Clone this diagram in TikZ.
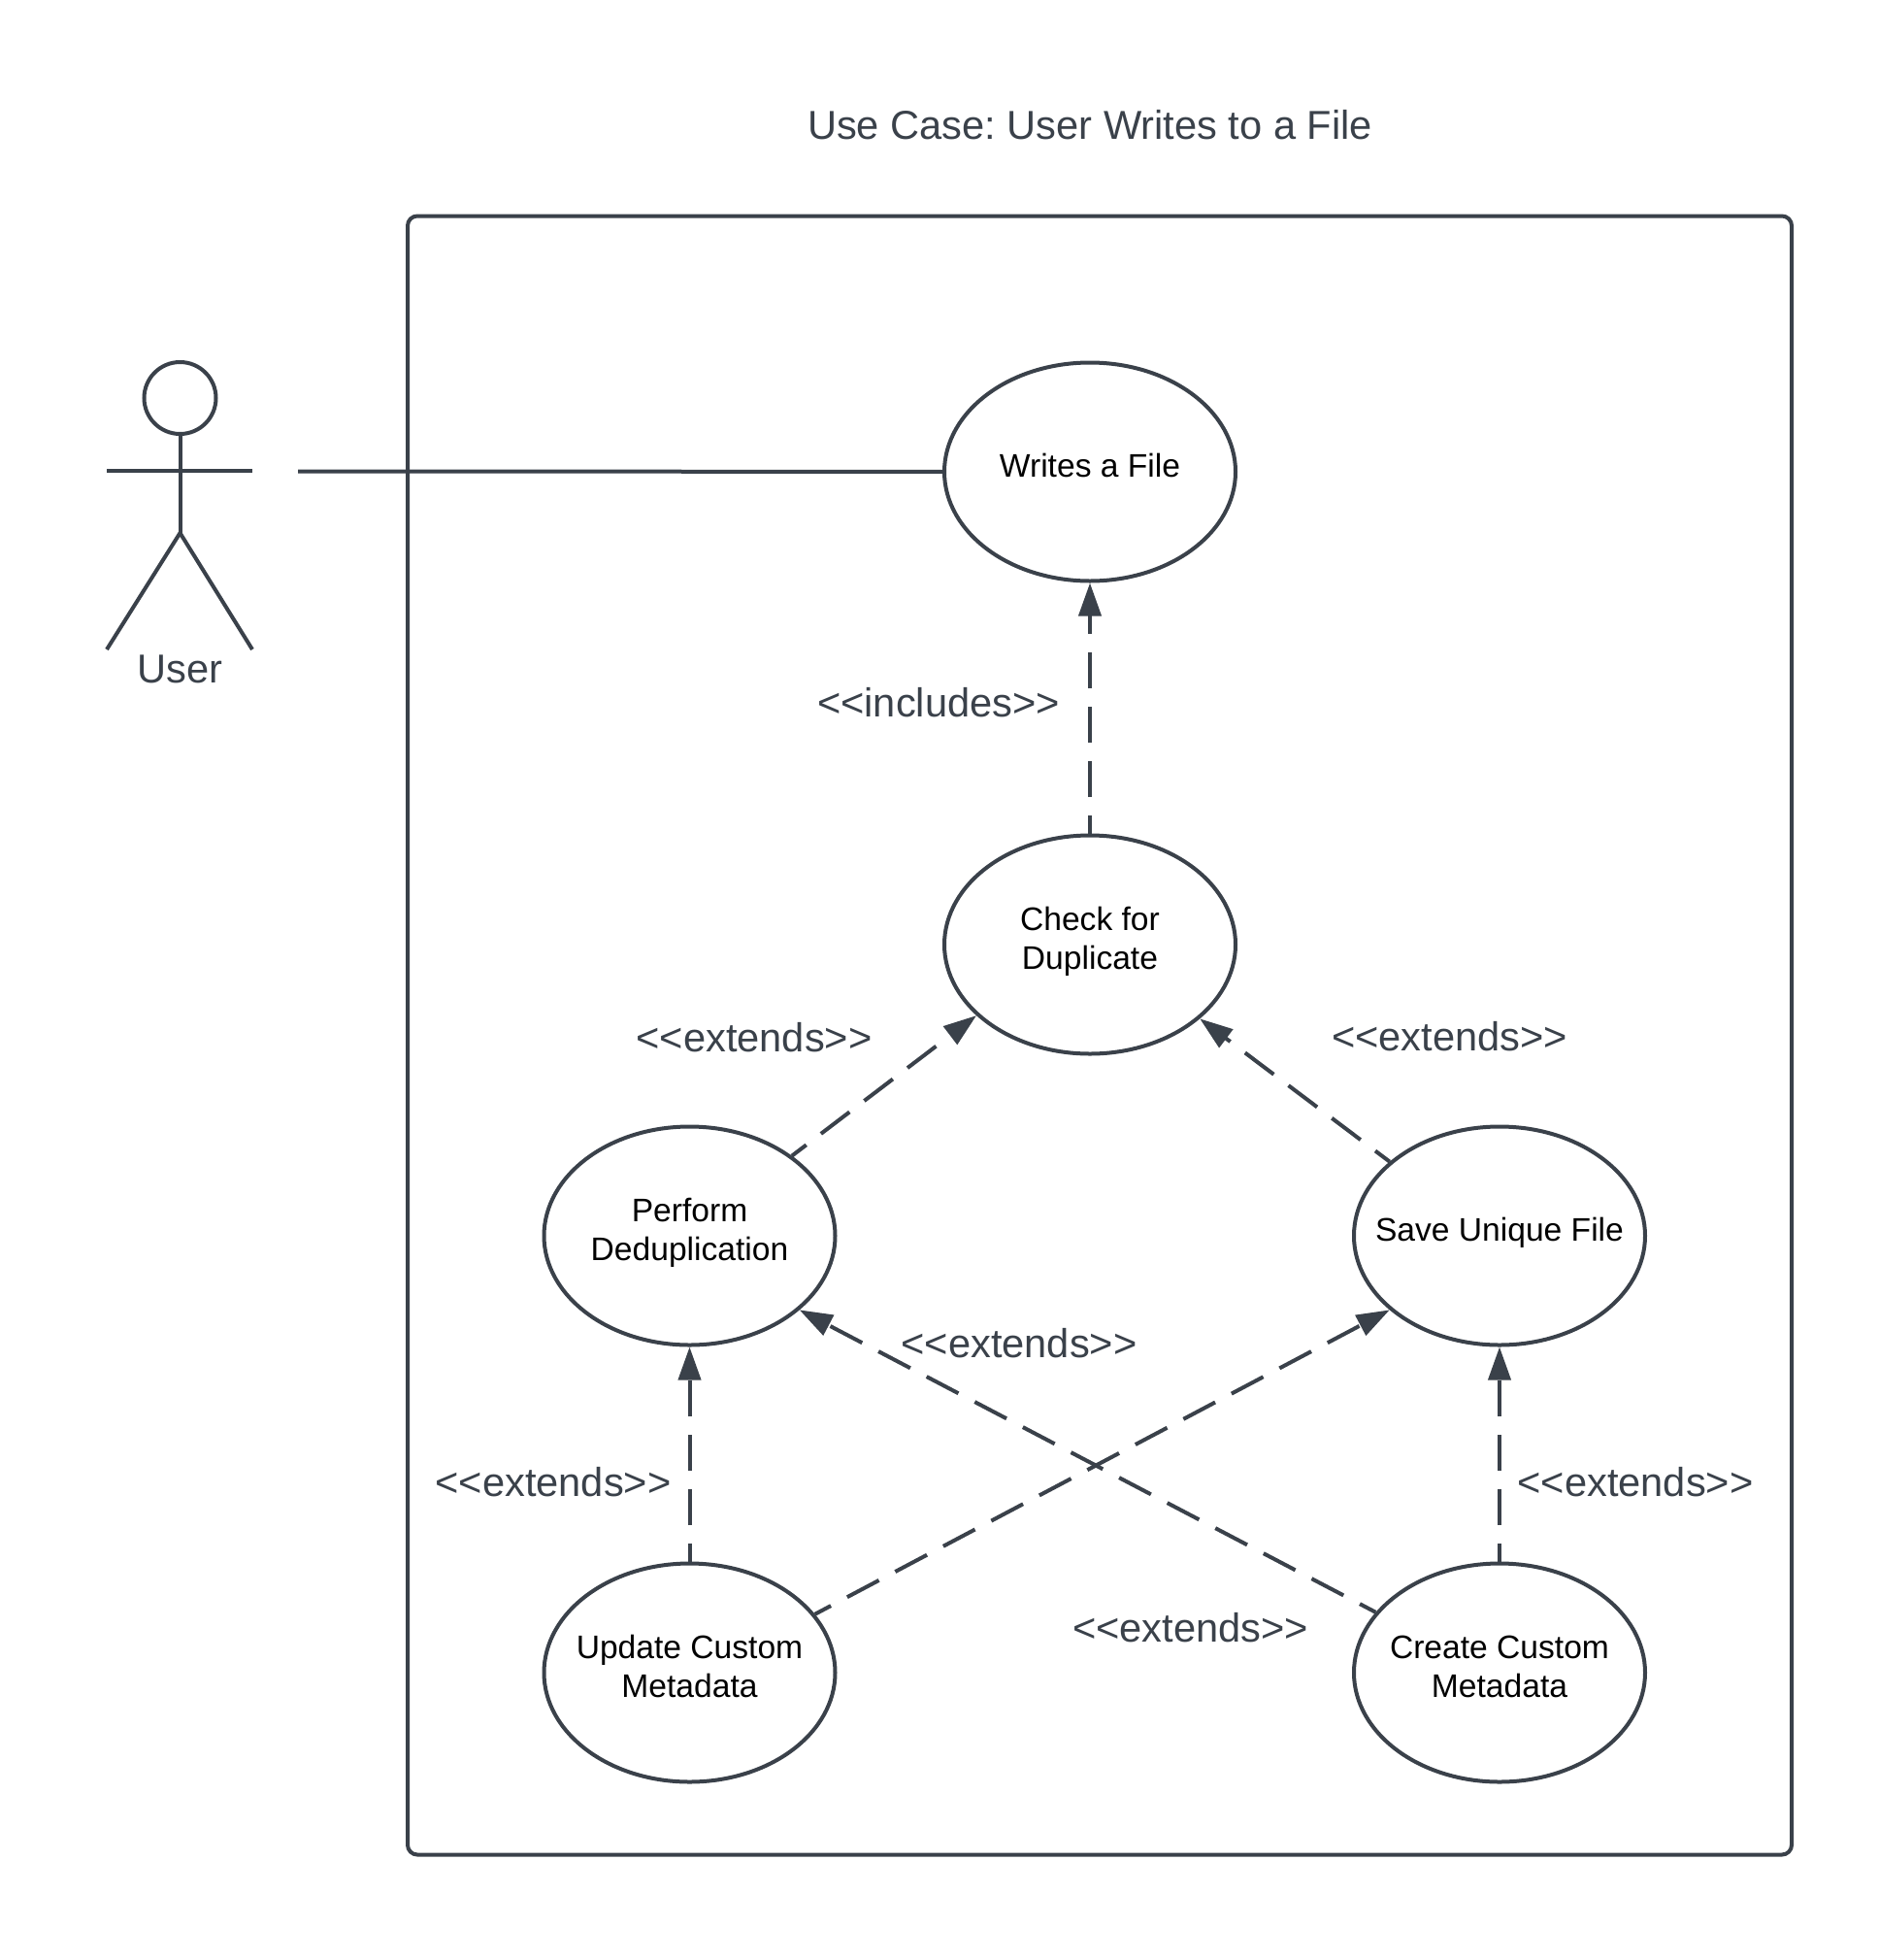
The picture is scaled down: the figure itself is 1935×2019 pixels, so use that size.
\documentclass[tikz,border=0pt]{standalone}
\usepackage{fontspec}
\setmainfont{Liberation Sans}
\usetikzlibrary{arrows.meta,shapes.geometric}
\definecolor{umlgray}{HTML}{3A414A}
\frenchspacing

\begin{document}
\begin{tikzpicture}[x=0.5pt,y=-0.5pt,line width=2pt,color=umlgray,
	usecase/.style={ellipse,draw=umlgray,minimum width=150pt,minimum height=112.5pt,inner sep=-16pt,align=center,text=black,font=\fontsize{16.8}{20}\selectfont,execute at end node={\rule[-6.7pt]{0pt}{1pt}}},
	tag/.style={inner sep=0pt,text=umlgray,font=\fontsize{20.8}{24}\selectfont},
	relation/.style={draw=umlgray,-{Triangle[length=17pt,width=11.5pt]},dash pattern=on 18.5pt off 9.5pt,dash phase=9.25pt}]
	\useasboundingbox (0,0) rectangle (1935,2019);

	\node (title) [tag] at (1123,129) {Use Case: User Writes to a File};
	\node (system) [draw=umlgray,rounded corners=5pt,minimum width=713pt,minimum height=844pt,inner sep=0pt] at (1133,1066.5) {};

	% the actor
	\node (head) [circle,draw=umlgray,minimum size=37pt,inner sep=0pt] at (185.5,410) {};
	\coordinate (handl) at (110,484.5);
	\coordinate (handr) at (260,484.5);
	\coordinate (hip) at (185.5,549);
	\coordinate (footl) at (110,669);
	\coordinate (footr) at (260,669);
	\coordinate (actorend) at (307,485.5);
	\draw (head) -- (hip);
	\draw (handl) -- (handr);
	\draw (footl) -- (hip) -- (footr);
	\node (user) [tag] at (185.5,689) {User};

	% the use cases
	\node (writes) [usecase] at (1123,486) {Writes a File};
	\node (check) [usecase] at (1123,973) {Check for\\Duplicate};
	\node (dedup) [usecase] at (710.5,1273) {Perform\\Deduplication};
	\node (save) [usecase] at (1545,1273) {Save Unique File};
	\node (update) [usecase] at (710.5,1723) {Update Custom\\Metadata};
	\node (create) [usecase] at (1545,1723) {Create Custom\\Metadata};

	\draw (actorend) -- (writes);
	\draw[relation] (check) -- (writes);
	\draw[relation] (dedup.38.8) -- (check.212);
	\draw[relation] (save.146.5) -- (check.-34.2);
	\draw[relation] (create.154.5) -- (dedup.-34.8);
	\draw[relation] (update.25.3) -- (save.214.8);
	\draw[relation] (update) -- (dedup);
	\draw[relation] (create) -- (save);

	\node (includes) [tag] at (967,724) {{<}{<}includes{>}{>}};
	\node (extendsa) [tag] at (777,1069) {{<}{<}extends{>}{>}};
	\node (extendsb) [tag] at (1493.5,1068) {{<}{<}extends{>}{>}};
	\node (extendsc) [tag] at (1050,1384) {{<}{<}extends{>}{>}};
	\node (extendsd) [tag] at (570,1527) {{<}{<}extends{>}{>}};
	\node (extendse) [tag] at (1685,1527) {{<}{<}extends{>}{>}};
	\node (extendsf) [tag] at (1226.5,1677) {{<}{<}extends{>}{>}};
\end{tikzpicture}
\end{document}
